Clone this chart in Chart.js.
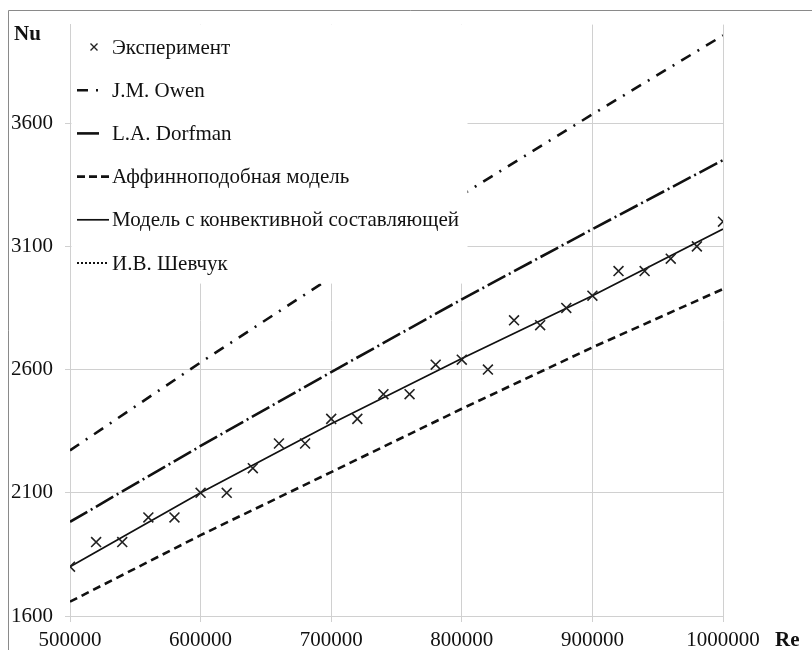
<!DOCTYPE html>
<html>
<head>
<meta charset="utf-8">
<script src="https://cdn.jsdelivr.net/npm/chart.js@4"></script>
<style>
html,body{margin:0;padding:0;background:#fff;}
#wrap{width:812px;height:650px;position:relative;}
</style>
</head>
<body>
<div id="wrap"><canvas id="c" width="812" height="650"></canvas></div>
<script>
// ---- data ----
const reExperiment = [500000, 520000, 540000, 560000, 580000, 600000, 620000, 640000, 660000, 680000, 700000, 720000, 740000, 760000, 780000, 800000, 820000, 840000, 860000, 880000, 900000, 920000, 940000, 960000, 980000, 1000000];
const nuExperiment = [1800, 1900, 1900, 2000, 2000, 2100, 2100, 2200, 2300, 2300, 2400, 2400, 2500, 2500, 2620, 2640, 2600, 2800, 2780, 2850, 2900, 3000, 3000, 3050, 3100, 3200];
const reModel = [500000, 600000, 700000, 800000, 900000, 1000000];
const nuOwen = [2272, 2629, 2974, 3309, 3636, 3956];
const nuDorfman = [1982, 2290, 2590, 2885, 3170, 3450];
const nuAffine = [1658, 1928, 2184, 2441, 2690, 2927];
const nuConvective = [1800, 2100, 2380, 2645, 2900, 3170];
const nuShevchuk = [];
const xTicks = [500000, 600000, 700000, 800000, 900000, 1000000];
const yTicks = [1600, 2100, 2600, 3100, 3600];
const seriesNames = ['Эксперимент', 'J.M. Owen', 'L.A. Dorfman', 'Аффинноподобная модель', 'Модель с конвективной составляющей', 'И.В. Шевчук'];

const pts = (xs, ys) => ys.map((y, i) => ({x: xs[i], y}));
const FONT = '"Liberation Serif", "Times New Roman", serif';
const INK = '#111';
const GRID = '#d0d0d0';

function lineSet(label, ys, dash, width, legendDash) {
  return {label, data: pts(reModel, ys), showLine: true, pointRadius: 0, pointHoverRadius: 0,
    borderColor: INK, backgroundColor: INK, borderWidth: width, borderDash: dash, legendDash,
    tension: 0, fill: false};
}

const datasets = [
  {label: seriesNames[0], data: pts(reExperiment, nuExperiment), showLine: false, pointStyle: 'crossRot',
   pointRadius: 7, pointHoverRadius: 7, borderColor: '#222', backgroundColor: '#222', pointBorderWidth: 1.6},
  lineSet(seriesNames[1], nuOwen, [11, 8, 2, 8], 2.6, [11, 8, 2, 30]),
  lineSet(seriesNames[2], nuDorfman, [20, 4, 2, 4], 2.6, [22, 30]),
  lineSet(seriesNames[3], nuAffine, [8, 5], 2.6, [8, 4]),
  lineSet(seriesNames[4], nuConvective, [], 1.7, []),
  lineSet(seriesNames[5], nuShevchuk, [2, 2], 2, [2, 2])
];

const framePlugin = {
  id: 'frame',
  beforeDraw(chart) {
    const ctx = chart.ctx;
    ctx.save();
    ctx.fillStyle = '#fff';
    ctx.fillRect(0, 0, chart.width, chart.height);
    ctx.strokeStyle = '#8a8a8a';
    ctx.lineWidth = 1;
    ctx.beginPath();
    ctx.moveTo(8.5, chart.height);
    ctx.lineTo(8.5, 10.5);
    ctx.lineTo(chart.width, 10.5);
    ctx.stroke();
    ctx.restore();
  },
  afterDraw(chart) {
    const ctx = chart.ctx;
    ctx.save();
    ctx.fillStyle = INK;
    ctx.font = 'bold 21px ' + FONT;
    ctx.textBaseline = 'middle';
    ctx.textAlign = 'left';
    ctx.fillText('Nu', 14, 35);
    ctx.fillText('Re', 775, 641);
    ctx.restore();
  }
};

const legendPlugin = {
  id: 'boxLegend',
  afterDatasetsDraw(chart) {
    const ctx = chart.ctx;
    const area = chart.chartArea;
    ctx.save();
    ctx.fillStyle = '#fff';
    ctx.fillRect(area.left + 1.5, area.top, 396, 259);
    const x0 = 77, x1 = 109, tx = 112;
    chart.data.datasets.forEach((ds, i) => {
      const y = 47 + i * 43.2;
      ctx.strokeStyle = ds.borderColor;
      if (ds.showLine === false) {
        ctx.lineWidth = 1.4;
        const r = 3.5, cx = 94;
        ctx.setLineDash([]);
        ctx.beginPath();
        ctx.moveTo(cx - r, y - r); ctx.lineTo(cx + r, y + r);
        ctx.moveTo(cx + r, y - r); ctx.lineTo(cx - r, y + r);
        ctx.stroke();
      } else {
        ctx.lineWidth = ds.borderWidth;
        ctx.setLineDash(ds.legendDash || []);
        ctx.beginPath();
        ctx.moveTo(x0, y); ctx.lineTo(x1, y);
        ctx.stroke();
        ctx.setLineDash([]);
      }
      ctx.fillStyle = INK;
      ctx.font = '21px ' + FONT;
      ctx.textBaseline = 'middle';
      ctx.textAlign = 'left';
      ctx.fillText(ds.label, tx, y + 1);
    });
    ctx.restore();
  }
};

new Chart(document.getElementById('c'), {
  type: 'scatter',
  data: {datasets},
  options: {
    responsive: false,
    animation: false,
    devicePixelRatio: 1,
    layout: {padding: {top: 24, right: 89, left: 0, bottom: 0}},
    plugins: {legend: {display: false}, tooltip: {enabled: false}, title: {display: false}},
    scales: {
      x: {
        type: 'linear', min: 500000, max: 1000000,
        afterBuildTicks(scale) { scale.ticks = xTicks.map(v => ({value: v})); },
        afterFit(scale) { scale.height = 34; },
        grid: {color: GRID, lineWidth: 1, tickLength: 6, drawTicks: true, tickColor: GRID},
        border: {display: true, color: GRID},
        ticks: {color: INK, font: {family: FONT, size: 21}, padding: 6, maxRotation: 0, autoSkip: false,
          callback: v => String(v)}
      },
      y: {
        type: 'linear', min: 1600, max: 4000,
        afterBuildTicks(scale) { scale.ticks = yTicks.map(v => ({value: v})); },
        afterFit(scale) { scale.width = 70; },
        grid: {color: GRID, lineWidth: 1, tickLength: 5, drawTicks: true, tickColor: GRID},
        border: {display: true, color: GRID},
        ticks: {color: INK, font: {family: FONT, size: 21}, padding: 12, autoSkip: false,
          callback: v => String(v)}
      }
    }
  },
  plugins: [framePlugin, legendPlugin]
});
</script>
</body>
</html>
